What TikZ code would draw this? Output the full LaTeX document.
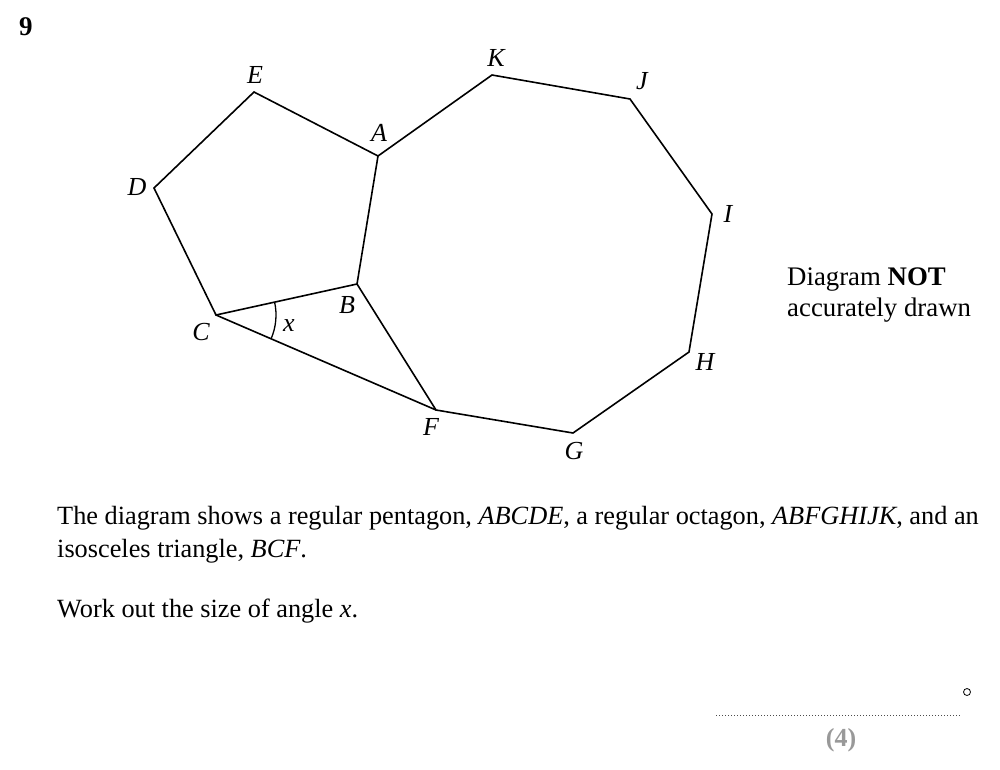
\documentclass[tikz,border=0pt]{standalone}
\usepackage{fontspec}
\setmainfont{Liberation Serif}
\usetikzlibrary{angles}
\begin{document}
\begin{tikzpicture}[x=1pt,y=-1pt,
  edge/.style={line width=1.6pt,line join=miter},
  lbl/.style={font=\fontsize{26}{30}\selectfont\itshape,inner sep=0pt},
  body/.style={font=\fontsize{26.3}{33}\selectfont,inner sep=0pt,anchor=base west}]
\useasboundingbox (0,0) rectangle (1000,769);
\coordinate (A) at (378,156);
\coordinate (B) at (357,284);
\coordinate (C) at (216,315);
\coordinate (D) at (154,188);
\coordinate (E) at (254,92);
\coordinate (K) at (492,75);
\coordinate (J) at (630,99);
\coordinate (I) at (712,214);
\coordinate (H) at (689,352);
\coordinate (G) at (573,433);
\coordinate (F) at (436,410);
\draw[edge] (A)--(B)--(C)--(D)--(E)--cycle;
\draw[edge] (A)--(K)--(J)--(I)--(H)--(G)--(F)--(B);
\draw[edge] (C)--(F);
\draw[line width=1.3pt] pic[draw,angle radius=60pt] {angle=F--C--B};
\node[lbl] (lE) at (255,75) {E};
\node[lbl] (lK) at (496,58) {K};
\node[lbl] (lJ) at (642,81) {J};
\node[lbl] (lA) at (379,133) {A};
\node[lbl] (lD) at (137,187) {D};
\node[lbl] (lI) at (728,214) {I};
\node[lbl] (lB) at (347,305) {B};
\node[lbl] (lC) at (201,332) {C};
\node[lbl] (lx) at (289,326) {x};
\node[lbl] (lH) at (705,362) {H};
\node[lbl] (lF) at (431,427) {F};
\node[lbl] (lG) at (574,451) {G};
\node[font=\fontsize{27}{30}\selectfont\bfseries,inner sep=0pt] (q) at (26,27) {9};
\node[body,font=\fontsize{26.8}{31}\selectfont] (n1) at (787,285) {Diagram \textbf{NOT}};
\node[body,font=\fontsize{26.8}{31}\selectfont] (n2) at (787,316) {accurately drawn};
\node[body] (t1) at (57,524) {The diagram shows a regular pentagon, \textit{ABCDE}, a regular octagon, \textit{ABFGHIJK}, and an};
\node[body] (t2) at (57,557) {isosceles triangle, \textit{BCF}.};
\node[body] (t3) at (57,617) {Work out the size of angle \textit{x}.};
\draw[line width=0.8pt] (967,692) circle (3.5pt);
\draw[line width=1pt,dotted,black!70] (716,715) -- (960,715);
\node[font=\fontsize{26}{30}\selectfont\bfseries,text=black!40,inner sep=0pt] (mk) at (841,740) {(4)};
\end{tikzpicture}
\end{document}
